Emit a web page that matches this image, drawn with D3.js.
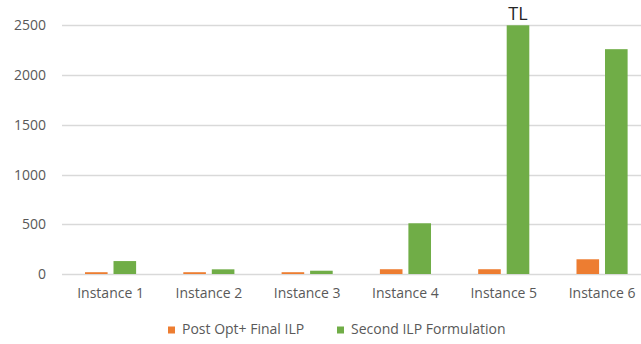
<!DOCTYPE html>
<html>
<head>
<meta charset="utf-8">
<script src="https://cdn.jsdelivr.net/npm/d3@7/dist/d3.min.js"></script>
<style>
  html, body { margin: 0; padding: 0; background: #fff; }
  svg { display: block; font-family: "Open Sans", "Noto Sans", sans-serif; }
</style>
</head>
<body>
<svg id="chart" width="641" height="344"></svg>
<script>
// Chart data
const categories = ["Instance 1", "Instance 2", "Instance 3", "Instance 4", "Instance 5", "Instance 6"];
const seriesNames = ["Post Opt+ Final ILP", "Second ILP Formulation"];
const postOptValues = [18, 18, 18, 48, 48, 148];
const secondIlpValues = [130, 47, 33, 510, 2500, 2260];
const yTicks = [0, 500, 1000, 1500, 2000, 2500];
const barLabels = ["", "", "", "", "TL", ""]; // labels over the second series
const colors = ["#ED7D31", "#70AD47"];

const svg = d3.select("#chart");
const W = 641;

const x = d3.scaleBand().domain(categories).range([61.4, 651.2]).paddingInner(0).paddingOuter(0);
const y = d3.scaleLinear().domain([0, 2500]).range([274, 25.3]);

const bw = x.bandwidth() * 0.23;
const gap = x.bandwidth() * 0.03;

// Gridlines
svg.append("g")
  .selectAll("line")
  .data(yTicks)
  .join("line")
  .attr("x1", 62).attr("x2", W)
  .attr("y1", d => Math.round(y(d)) + 0.5)
  .attr("y2", d => Math.round(y(d)) + 0.5)
  .attr("stroke", "#d9d9d9")
  .attr("stroke-width", 1.3);

// Y axis labels
const yAxis = d3.axisLeft(y).tickValues(yTicks).tickFormat(d3.format("d")).tickSize(0).tickPadding(0);
const gy = svg.append("g").attr("transform", "translate(46,0)").call(yAxis);
gy.select(".domain").remove();
gy.selectAll("text")
  .attr("font-size", 14)
  .attr("fill", "#595959")
  .attr("font-family", "'Open Sans', sans-serif");

// X axis labels
const xAxis = d3.axisBottom(x).tickSize(0).tickPadding(0);
const gx = svg.append("g").attr("transform", "translate(0,288)").call(xAxis);
gx.select(".domain").remove();
gx.selectAll("text")
  .attr("font-size", 14)
  .attr("fill", "#595959")
  .attr("font-family", "'Open Sans', sans-serif");

const rows = categories.map((c, i) => ({ c, a: postOptValues[i], b: secondIlpValues[i], label: barLabels[i] }));
const center = d => x(d.c) + x.bandwidth() / 2;

// Bars
svg.append("g").selectAll("rect")
  .data(rows).join("rect")
  .attr("x", d => center(d) - gap - bw)
  .attr("width", bw)
  .attr("y", d => y(d.a))
  .attr("height", d => y(0) - y(d.a))
  .attr("fill", colors[0]);

svg.append("g").selectAll("rect")
  .data(rows).join("rect")
  .attr("x", d => center(d) + gap)
  .attr("width", bw)
  .attr("y", d => y(d.b))
  .attr("height", d => y(0) - y(d.b))
  .attr("fill", colors[1]);

// Value annotations above bars
svg.append("g").selectAll("text")
  .data(rows.filter(d => d.label)).join("text")
  .attr("x", d => center(d) + gap + bw / 2)
  .attr("y", d => y(d.b) - 5)
  .attr("text-anchor", "middle")
  .attr("font-size", 18)
  .attr("fill", "#262626")
  .text(d => d.label);

// Legend
const legend = svg.append("g").attr("transform", "translate(168,334)");
const legendX = [0, 169];
seriesNames.forEach((name, i) => {
  const g = legend.append("g").attr("transform", `translate(${legendX[i]},0)`);
  g.append("rect").attr("x", 0).attr("y", -7.5).attr("width", 7).attr("height", 7).attr("fill", colors[i]);
  g.append("text").attr("x", 14).attr("y", 0)
    .attr("font-size", 14).attr("fill", "#595959").text(name);
});
</script>
</body>
</html>
